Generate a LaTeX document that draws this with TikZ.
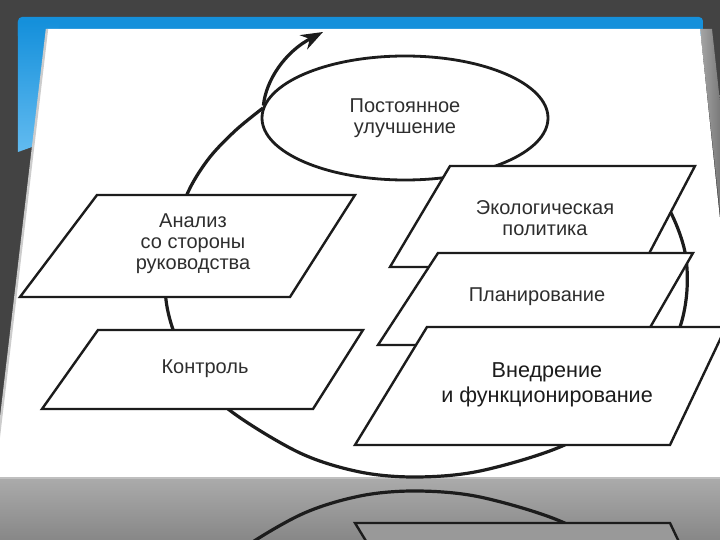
\documentclass[tikz,border=0pt]{standalone}
\usepackage{fontspec}
\setmainfont{Liberation Sans}
\usetikzlibrary{arrows.meta,shapes.geometric}

\definecolor{slide}{HTML}{434343}
\definecolor{bar}{HTML}{1590DB}
\definecolor{barlight}{HTML}{62BBF0}
\definecolor{ink}{HTML}{1C1C1C}
\definecolor{script}{HTML}{2E2E2E}

\tikzset{
  blok/.style={draw=ink, line width=1.2pt, fill=white},
  cycleline/.style={draw=ink, line width=1.6pt},
  lbl/.style={text=script, font=\fontsize{10}{10.5}\selectfont, align=center, inner sep=0pt},
}

\newcommand{\cyclepath}{plot[smooth, tension=0.55] coordinates {(263,108) (236,130) (210,157) (190,188) (176,225) (167,265) (166,300) (175,335) (195,375) (232,412) (300,453) (360,472) (417,477) (480,471) (560,447) (620,412) (660,370) (680,327) (687,290) (685,252) (672,215) (650,180)}}
\newcommand{\vnedrpath}{(427,327) -- (726,327) -- (670,445) -- (355,445) -- cycle}

\begin{document}
\begin{tikzpicture}[x=0.5pt, y=-0.5pt]
  \useasboundingbox (0,0) rectangle (720,540);
  \begin{scope}
    \clip (0,0) rectangle (720,540);
    % slide
    \fill[slide] (0,0) rectangle (720,540);
    \fill[bar, rounded corners=2pt] (18,17) rectangle (703,40);
    \shade[top color=bar, bottom color=barlight] (18,22) -- (60,22) -- (32,147) -- (18,152) -- cycle;
    \shade[left color=black!35, right color=slide] (700,29) -- (712,29) -- (745,330) -- (733,330) -- cycle;
    \fill[white] (47,29) -- (700,29) -- (740,410) -- (740,478) -- (-6,478) -- cycle;
    \draw[black!20, line width=1.2pt] (47,29) -- (-6,478);
    % reflection
    \shade[top color=black!33, bottom color=black!47] (0,478) rectangle (720,540);
    \draw[black!25, line width=1pt] (0,478) -- (720,478);
    \begin{scope}
      \clip (0,480) rectangle (720,540);
      \begin{scope}[yshift=-484pt, yscale=-1]
        \draw[cycleline] \cyclepath;
        \filldraw[blok, fill=black!40] \vnedrpath;
      \end{scope}
    \end{scope}
  \end{scope}

  \draw[cycleline] \cyclepath;

  \node[ellipse, draw=ink, line width=1.4pt, fill=white, minimum width=143pt, minimum height=62pt,
        inner sep=0pt, lbl] (ulu) at (405,118) {Постоянное\\улучшение};
  \draw[cycleline, -{Stealth[length=11pt, width=8pt]}] (ulu.175) .. controls (266,80) and (285,52) .. (323,32);

  \draw[blok] (97,195) -- (355,195) -- (290,297) -- (20,297) -- cycle;
  \draw[blok] (98,330) -- (363,330) -- (313,409) -- (42,409) -- cycle;
  \draw[blok] (450,166) -- (695,166) -- (642,267) -- (390,267) -- cycle;
  \draw[blok] (438,253) -- (693,253) -- (640,345) -- (378,345) -- cycle;
  \draw[blok] \vnedrpath;

  \node[lbl] (analiz) at (193,244) {Анализ\\со стороны\\руководства};
  \node[lbl] (kontrol) at (205,369) {Контроль};
  \node[lbl] (ekol) at (545,218) {Экологическая\\политика};
  \node[lbl] (plan) at (537,297) {Планирование};
  \node[lbl, text=ink, font=\fontsize{10.8}{12.5}\selectfont] (vnedr) at (547,385) {Внедрение\\и функционирование};
\end{tikzpicture}
\end{document}
